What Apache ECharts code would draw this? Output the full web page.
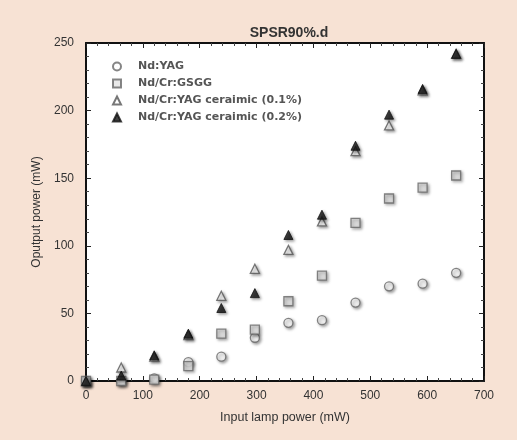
<!DOCTYPE html>
<html>
<head>
<meta charset="utf-8">
<script src="https://cdn.jsdelivr.net/npm/echarts@6/dist/echarts.min.js"></script>
<style>
  html, body { margin: 0; padding: 0; background: #f7e2d4; }
  #chart { width: 517px; height: 440px; }
</style>
</head>
<body>
<div id="chart"></div>
<script>
// input lamp power (mW)
const lampPower = [0, 62, 120, 180, 238, 297, 356, 415, 474, 533, 592, 651];
// output power (mW)
const ndYag = [0, 0, 2, 14, 18, 32, 43, 45, 58, 70, 72, 80];
const ndCrGsgg = [0, 0, 1, 11, 35, 38, 59, 78, 117, 135, 143, 152];
const ceramic01 = [0, 10, 18, 34, 63, 83, 97, 118, 170, 189, 215, 242];
const ceramic02 = [0, 4, 19, 35, 54, 65, 108, 123, 174, 197, 216, 242];
const seriesNames = ['Nd:YAG', 'Nd/Cr:GSGG', 'Nd/Cr:YAG ceraimic (0.1%)', 'Nd/Cr:YAG ceraimic (0.2%)'];

const font = 'Liberation Sans, Arial, sans-serif';
const pairs = ys => lampPower.map((x, i) => [x, ys[i]]);
const shadow = { shadowBlur: 3, shadowColor: 'rgba(0,0,0,0.45)', shadowOffsetX: 1.5, shadowOffsetY: 1.5 };

const chart = echarts.init(document.getElementById('chart'));

const frameAxis = {
  axisLine: { show: true, onZero: false, lineStyle: { color: '#111', width: 2 } },
  axisTick: { show: true, inside: true, length: 5, lineStyle: { color: '#222' } },
  minorTick: { show: true, splitNumber: 5, length: 3, lineStyle: { color: '#444' } },
  splitLine: { show: false }
};

chart.setOption({
  backgroundColor: '#f7e2d4',
  animation: false,
  title: {
    text: 'SPSR90%.d',
    left: 284,
    textAlign: 'center',
    top: 21,
    textStyle: { fontFamily: font, fontSize: 14, fontWeight: 'bold', color: '#333' }
  },
  grid: { left: 86, top: 43, right: 33, bottom: 59, show: true, backgroundColor: '#fff', borderWidth: 0 },
  legend: {
    orient: 'vertical',
    left: 107,
    top: 56,
    itemGap: 6,
    itemWidth: 8,
    itemHeight: 8,
    textStyle: { fontFamily: 'DejaVu Sans, sans-serif', fontSize: 11, fontWeight: 'bold', color: '#555', padding: [0, 0, 0, 12] },
    data: seriesNames
  },
  xAxis: [
    Object.assign({
      type: 'value', min: 0, max: 700, interval: 100,
      name: 'Input lamp power (mW)', nameLocation: 'middle', nameGap: 30,
      nameTextStyle: { fontFamily: font, fontSize: 12.5, color: '#333' },
      axisLabel: { fontFamily: font, fontSize: 12, color: '#333', margin: 9 }
    }, frameAxis),
    Object.assign({
      type: 'value', min: 0, max: 700, interval: 100, position: 'top',
      axisLabel: { show: false }
    }, frameAxis)
  ],
  yAxis: [
    Object.assign({
      type: 'value', min: 0, max: 250, interval: 50,
      name: 'Oputput power (mW)', nameLocation: 'middle', nameGap: 42,
      nameTextStyle: { fontFamily: font, fontSize: 12, color: '#333' },
      axisLabel: { fontFamily: font, fontSize: 12, color: '#333', margin: 12 }
    }, frameAxis),
    Object.assign({
      type: 'value', min: 0, max: 250, interval: 50, position: 'right',
      axisLabel: { show: false }
    }, frameAxis)
  ],
  series: [
    {
      name: seriesNames[0], type: 'scatter', symbol: 'circle', symbolSize: 9,
      itemStyle: Object.assign({ color: '#fff', borderColor: '#666', borderWidth: 1.3 }, shadow),
      data: pairs(ndYag)
    },
    {
      name: seriesNames[1], type: 'scatter', symbol: 'rect', symbolSize: 9,
      itemStyle: Object.assign({ color: '#e4e4e4', borderColor: '#666', borderWidth: 1.3 }, shadow),
      data: pairs(ndCrGsgg)
    },
    {
      name: seriesNames[2], type: 'scatter', symbol: 'triangle', symbolSize: 9,
      itemStyle: Object.assign({ color: '#fff', borderColor: '#555', borderWidth: 1.3 }, shadow),
      data: pairs(ceramic01)
    },
    {
      name: seriesNames[3], type: 'scatter', symbol: 'triangle', symbolSize: 9,
      itemStyle: Object.assign({ color: '#111', borderColor: '#111', borderWidth: 1 }, shadow),
      data: pairs(ceramic02)
    }
  ]
});
</script>
</body>
</html>
